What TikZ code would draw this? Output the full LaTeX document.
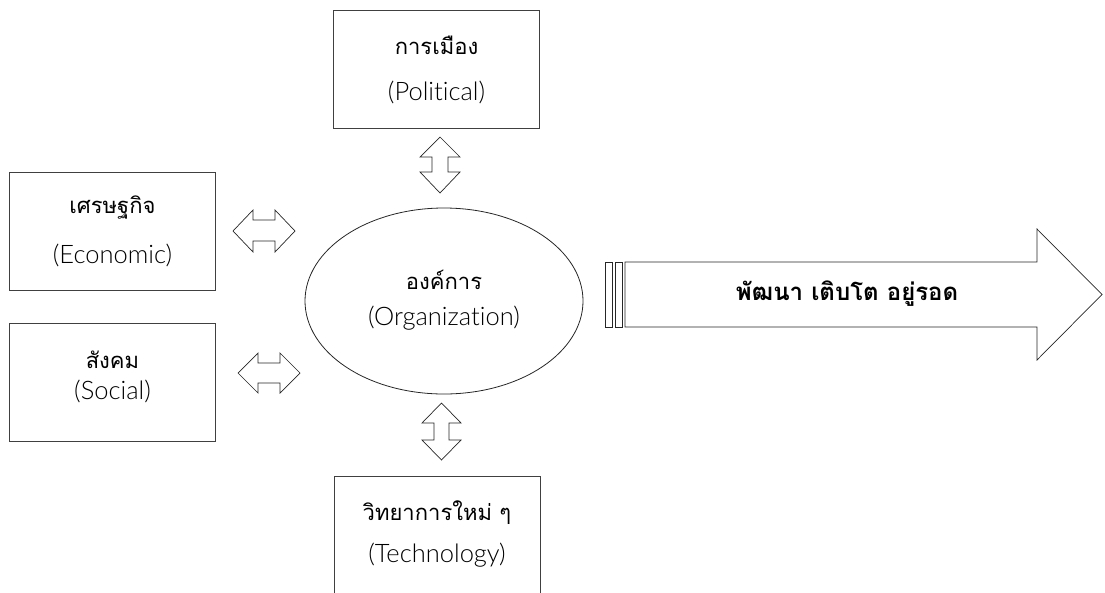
\documentclass[tikz,border=0pt]{standalone}
\usepackage{fontspec}
\setmainfont[Script=Thai]{Loma}
\newfontfamily\latinfont[Ligatures=NoCommon]{Lato Light}
\usetikzlibrary{shapes.geometric}
\begin{document}
\begin{tikzpicture}[x=1pt, y=-1pt,
    color=black, line width=0.8pt,
    factor/.style={draw=black!75, minimum width=206pt, minimum height=118pt, inner sep=0pt},
    core/.style={draw=black!85, ellipse, minimum width=278pt, minimum height=186pt, inner sep=0pt},
    twoway/.style={draw=black!85, line width=0.7pt, line join=miter},
    txt/.style={font=\fontsize{22}{26}\selectfont, inner sep=0pt},
    eng/.style={font=\fontsize{25.5}{30}\selectfont\latinfont, inner sep=0pt}
  ]
    \useasboundingbox (0,0) rectangle (1105,592);
    \clip (0,0) rectangle (1105,592);

    % factor boxes
    \node[factor] (pol) at (436.5,69) {};
    \node[factor] (eco) at (112.5,231) {};
    \node[factor] (soc) at (112.5,382) {};
    \node[factor] (tech) at (437,535) {};
    \node[core] (org) at (444,301) {};

    \node[txt] (polTH) at (436.5,45) {การเมือง};
    \node[eng] (polEN) at (436.5,92) {(Political)};
    \node[txt] (ecoTH) at (112.5,208) {เศรษฐกิจ};
    \node[eng] (ecoEN) at (112.5,255) {(Economic)};
    \node[txt] (socTH) at (112.5,360) {สังคม};
    \node[eng] (socEN) at (112.5,391) {(Social)};
    \node[txt] (techTH) at (437,513) {วิทยาการใหม่ ๆ};
    \node[eng] (techEN) at (437,555) {(Technology)};
    \node[txt] (orgTH) at (444,280) {องค์การ};
    \node[eng] (orgEN) at (444,318) {(Organization)};

    % two-way block arrows
    \draw[twoway] (440,137) -- (460,157) -- (448,157) -- (448,172) -- (460,172) -- (440,193)
        -- (420,172) -- (432,172) -- (432,157) -- (420,157) -- cycle;
    \draw[twoway] (441.5,403) -- (461,423) -- (449,423) -- (449,440) -- (461,440) -- (441.5,460)
        -- (422,440) -- (434,440) -- (434,423) -- (422,423) -- cycle;
    \draw[twoway] (233,231) -- (253,210) -- (253,220) -- (275,220) -- (275,210) -- (295,231)
        -- (275,252) -- (275,241) -- (253,241) -- (253,252) -- cycle;
    \draw[twoway] (238,373) -- (258,353) -- (258,363) -- (280,363) -- (280,353) -- (300,373)
        -- (280,393) -- (280,383) -- (258,383) -- (258,393) -- cycle;

    % outcome arrow
    \draw[twoway] (605,262) rectangle (612,327);
    \draw[twoway] (615,262) rectangle (622,327);
    \draw[twoway] (625,262) -- (1037,262) -- (1037,229) -- (1102,294.5) -- (1037,360)
        -- (1037,327) -- (625,327) -- cycle;
    \node[txt, font=\fontsize{24}{28}\selectfont\bfseries] (goal) at (847,294) {พัฒนา เติบโต อยู่รอด};
\end{tikzpicture}
\end{document}
